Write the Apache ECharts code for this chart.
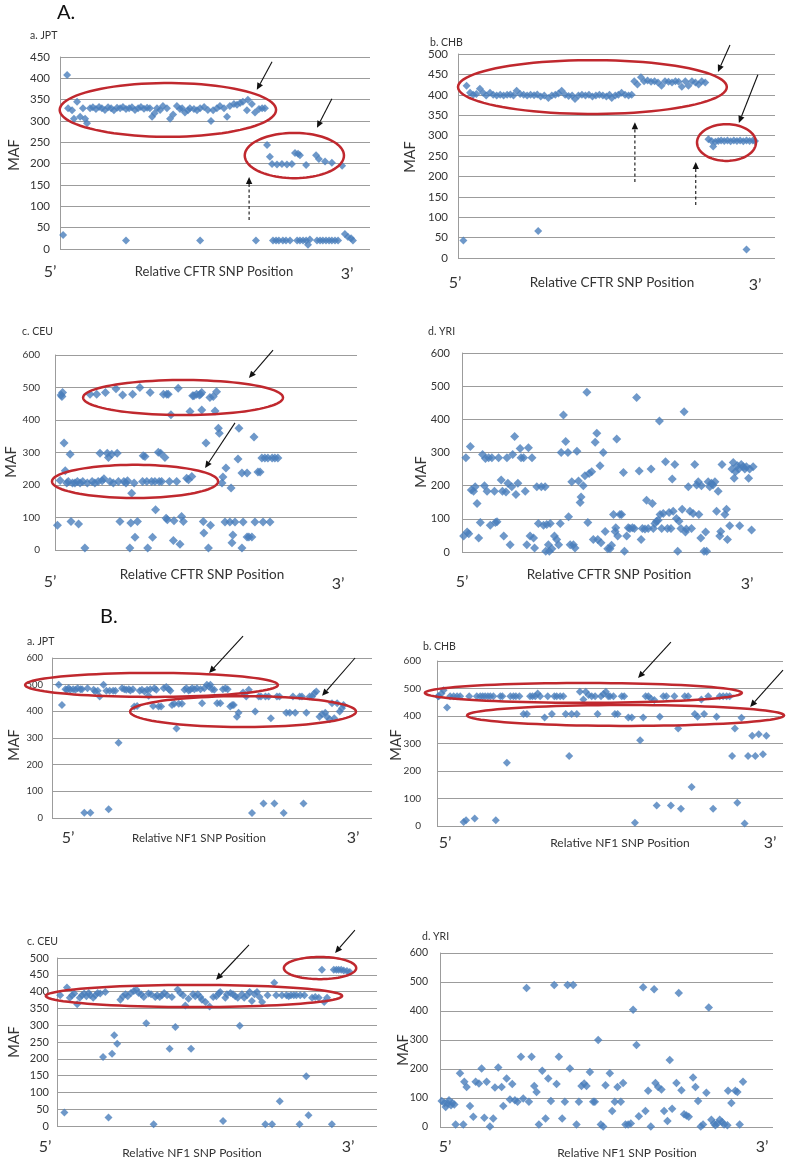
<!DOCTYPE html>
<html><head><meta charset="utf-8">
<script src="https://cdn.jsdelivr.net/npm/echarts@6/dist/echarts.min.js"></script>
<style>html,body{margin:0;padding:0;background:#fff}#c{width:795px;height:1161px}</style>
</head><body><div id="c"></div>
<script>
// ---- data: [relative SNP position (0-100), MAF] ----
const jptCFTR = [[1.0,33],[2.3,408],[2.6,330],[3.9,325],[4.5,305],[5.5,345],[6.5,310],[7.4,330],[8.1,305],[8.7,295],
[9.7,330],[10.6,332],[11.6,328],[12.6,333],[13.5,330],[14.5,326],[15.5,332],[16.5,330],[17.4,325],[18.4,331],[19.4,330],[20.3,333],[21.3,328],[22.3,330],[23.2,332],[24.2,326],[25.2,330],[26.1,333],[27.1,329],[28.1,331],[29.0,330],[29.7,310],[30.5,318],[31.3,330],[32.3,326],[33.2,335],[34.5,330],[35.5,305],[36.5,315],[37.7,335],[38.7,328],[39.4,330],[40.3,320],[41.3,325],[41.9,330],[43.2,328],[44.2,325],[45.2,330],[46.5,333],[47.7,326],[48.7,300],[49.4,325],[50.6,330],[51.6,335],[52.9,330],[53.9,310],[54.8,335],[56.1,340],[57.1,338],[58.1,342],[59.0,345],[60.3,325],[60.6,350],[61.9,340],[62.9,320],[64.2,328],[65.2,330],[66.1,330],
[66.8,244],[67.7,216],[68.4,199],[70.0,198],[71.6,199],[73.2,198],[74.8,199],[75.8,225],[76.8,223],[77.4,220],[79.4,197],[82.6,220],[83.5,211],[85.5,205],[87.7,202],[91.0,195],
[21.3,20],[45.2,20],[63.2,20],[68.7,20],[69.7,20],[70.6,20],[71.9,20],[72.9,20],[74.2,20],[76.5,20],[77.4,20],[78.4,20],[79.4,20],[80.0,10],[80.6,22],[82.9,20],[83.9,20],[84.8,20],[85.8,20],[86.8,20],[87.7,20],[88.7,20],[89.7,20],[91.9,35],[92.9,28],[93.9,25],[94.5,20]];

const chbCFTR = [[1.7,43],[2.7,422],[3.8,405],[4.8,400],[5.8,402],[6.9,415],[7.9,405],[8.9,398],[10.1,405],[11.1,400],[12.2,398],[13.3,400],[14.4,398],[15.5,400],[16.5,401],[17.5,398],[18.5,410],[19.6,402],[20.7,400],[21.8,398],[22.9,400],[24.0,399],[25.0,401],[26.1,396],[27.2,398],[28.5,392],[29.6,398],[30.7,400],[31.7,403],[32.7,410],[33.8,400],[34.9,397],[36.0,398],[36.9,390],[38.0,398],[39.1,400],[40.2,398],[41.3,400],[42.4,396],[43.5,398],[44.6,400],[45.7,398],[46.8,396],[47.8,400],[48.5,392],[49.6,398],[50.6,400],[51.6,405],[52.7,400],[53.8,398],[54.8,400],
[55.6,433],[56.6,425],[57.7,443],[58.7,433],[59.8,435],[60.9,432],[62.0,433],[63.1,430],[64.2,422],[65.3,433],[66.4,432],[67.5,430],[68.6,433],[69.6,432],[70.6,420],[71.7,433],[72.7,422],[73.8,433],[74.9,430],[75.9,425],[76.9,433],[78.0,430],
[79.0,291],[80.0,287],[80.5,273],[81.2,285],[82.1,287],[83.0,288],[84.0,287],[85.0,288],[86.0,286],[87.0,288],[88.0,287],[89.0,288],[90.0,286],[91.0,288],[92.0,287],[93.0,288],[93.7,287],
[25.3,66],[91.0,21]];

const ceuCFTR = [[0.8,76],[1.7,214],[2.0,477],[2.5,485],[2.3,472],[3.0,329],[3.4,244],[3.9,206],[4.4,211],[5.0,295],[5.3,88],[5.8,206],[6.6,206],[7.4,211],[7.8,80],[8.3,206],[9.2,211],[9.9,6],[10.7,206],[11.6,479],[12.3,211],[13.2,206],[13.8,479],[14.3,211],[14.9,298],[15.6,213],[16.2,219],[16.7,485],[17.3,298],[17.7,285],[18.2,211],[18.8,295],[19.3,206],[20.2,496],[20.6,298],[21.0,211],[21.5,88],[22.4,477],[22.8,211],[23.5,206],[24.0,213],[24.8,6],[25.1,83],[25.4,175],[25.7,479],[26.2,206],[26.5,39],[27.3,88],[28.1,500],[29.0,211],[29.2,290],[29.8,288],[30.4,211],[30.7,6],[31.5,485],[32.0,211],[32.3,39],[33.1,211],[33.3,124],[34.2,301],[34.5,211],[35.0,298],[35.3,211],[35.9,479],[36.4,285],[37.0,479],[37.5,479],[36.8,98],[37.2,93],[38.4,416],[37.9,211],[39.2,29],[39.4,90],[40.3,211],[40.8,498],[41.4,18],[41.9,103],[42.5,88],[43.6,221],[44.2,216],[44.7,426],[45.3,226],[45.6,475],[46.0,475],[46.9,479],[47.8,477],[48.2,479],[48.6,485],[48.6,431],[49.1,88],[49.3,52],[50.0,329],[50.8,6],[51.5,76],[51.3,469],[52.4,472],[53.0,428],[53.5,487],[54.1,375],[54.4,359],
[55.6,225],[55.3,206],[56.6,252],[58.3,191],[56.3,86],[58.6,22],[58.9,46],[57.9,86],[59.6,86],[60.6,280],[60.9,375],[61.9,237],[61.9,6],[62.3,86],[63.6,237],[63.6,40],[64.2,40],[65.2,40],[65.9,348],[66.2,86],[67.2,240],[67.9,240],[68.5,283],[68.9,86],[69.5,283],[70.5,283],[71.2,86],[71.9,283],[72.8,283],[73.8,283]];

const yriCFTR = [[0.5,48],[1.2,284],[1.6,60],[2.1,55],[2.6,318],[2.9,187],[3.6,183],[4.1,197],[4.7,146],[5.2,42],[5.7,89],[6.4,294],[7.0,200],[7.3,282],[7.8,183],[8.3,284],[8.8,81],[9.3,284],[10.1,183],[10.4,89],[10.9,91],[11.4,284],[12.2,217],[12.6,183],[13.0,48],[13.7,181],[14.0,284],[14.3,207],[15.0,22],[15.5,197],[15.8,294],[16.4,348],[16.8,173],[17.4,207],[18.1,312],[18.4,284],[19.2,284],[19.7,183],[20.2,22],[20.7,314],[21.2,48],[21.8,284],[22.3,42],[22.6,12],[23.3,197],[23.8,86],[24.7,197],[25.4,81],[25.9,197],[26.1,2],[26.4,83],[26.9,22],[27.2,2],[27.5,86],[28.0,10],[28.8,48],[29.5,38],[30.1,22],[30.6,86],[30.9,300],[31.6,413],[32.3,333],[33.0,300],[33.2,106],[33.7,22],[34.2,212],[34.7,22],[35.2,12],[35.8,304],[36.3,214],[36.8,149],[37.1,166],[37.8,200],[38.3,230],[38.9,482],[39.2,89],[39.6,237],[40.4,242],[40.9,38],[41.5,331],[42.0,358],[42.3,38],[43.0,260],[43.3,28],[44.0,300],[44.6,62],[45.4,10],[46.1,10],[46.6,20],[47.2,113],[47.7,62],[47.9,73],[48.2,341],[48.5,48],[49.2,113],[49.7,113],[50.3,240],[50.6,2],[51.3,48],[51.8,73],[52.3,71],[53.1,73],[53.7,71],[54.4,466],[55.2,244],[55.8,38],[56.2,71],[57.0,69],[57.5,156],[58.0,71],[58.9,250],[59.3,146],[59.6,71],[60.1,86],[60.6,93],[61.1,96],[61.5,395],[61.7,113],[62.2,71],[62.7,116],[63.4,272],[64.0,71],[64.5,119],[65.1,71],[65.5,220],[65.8,123],[66.3,264],[66.8,101],[67.2,2],[67.6,93],[68.2,71],[68.6,129],[69.2,423],[69.6,60],[69.9,69],[70.5,197],[71.0,123],[71.5,71],[72.0,116],[72.5,264],[73.1,202],[73.6,212],[73.8,113],[74.4,42],[74.6,200],[75.4,2],[75.9,60],[76.2,2],[76.7,212],[77.2,197],[77.7,207],[78.2,202],[78.8,212],[79.3,123],[79.8,183],[80.3,48],[80.6,62],[81.0,264],[81.9,113],[82.4,129],[82.7,38],[83.4,79],[84.1,250],[84.5,270],[84.8,222],[85.2,242],[85.8,260],[86.2,250],[86.5,79],[87.0,264],[87.6,257],[88.1,250],[88.6,257],[89.3,222],[89.6,250],[90.2,66],[90.7,257]];

const jptNF1 = [[2.1,500],[3.1,424],[4.2,483],[4.7,481],[5.2,487],[5.7,481],[6.6,483],[7.3,481],[8.0,487],[8.9,483],[9.4,483],[10.1,20],[11.1,487],[12.0,20],[13.0,481],[13.5,474],[14.3,477],[14.9,456],[16.1,500],[17.0,477],[17.7,33],[18.0,477],[19.1,477],[19.8,477],[20.8,282],[21.9,487],[22.6,483],[23.2,481],[24.0,483],[24.5,478],[25.3,483],[25.7,418],[26.6,420],[27.4,477],[28.1,481],[28.9,474],[29.7,481],[30.2,458],[30.7,483],[31.6,420],[32.0,487],[32.6,481],[33.3,418],[34.1,418],[34.9,487],[35.7,491],[36.5,483],[37.0,477],[37.5,424],[38.2,428],[38.9,336],[39.6,428],[40.6,428],[41.4,481],[42.0,487],[42.7,478],[43.2,481],[43.8,487],[44.5,483],[45.3,487],[46.4,483],[46.9,430],[47.6,487],[48.4,500],[49.0,493],[49.5,500],[50.0,483],[50.7,481],[51.6,430],[52.6,430],[53.4,483],[54.2,487],[54.9,483],[55.7,418],[56.3,424],[56.8,424],[57.8,380],[58.3,395],[59.7,471],[60.7,456],[61.5,481],[62.5,19],[63.5,399],[64.6,456],[65.3,456],[66.1,54],[66.7,456],[67.7,456],[68.4,374],[69.5,54],[70.3,456],[71.1,456],[72.4,19],[73.2,395],[74.3,395],[75.3,456],[76.0,395],[77.4,456],[78.1,456],[78.6,54],[79.5,395],[80.5,456],[81.3,456],[82.0,468],[82.6,474],[83.6,380],[84.4,390],[85.4,395],[85.9,380],[86.8,370],[87.5,430],[88.2,374],[89.1,430],[89.9,399],[90.6,412],[91.1,424]];

const chbNF1 = [[0.3,472],[0.5,472],[1.3,482],[1.9,494],[2.9,431],[3.8,472],[4.8,472],[5.8,472],[6.7,472],[7.7,15],[8.4,21],[9.3,472],[10.9,27],[11.5,472],[12.5,472],[13.2,472],[13.9,472],[14.7,472],[15.4,472],[16.3,472],[17.0,21],[18.3,472],[18.9,472],[20.2,230],[21.2,472],[22.1,472],[22.8,472],[23.8,472],[25.0,407],[26.0,407],[26.9,472],[27.6,472],[28.4,472],[29.1,482],[29.8,472],[31.1,395],[32.0,472],[33.2,407],[33.9,472],[34.6,472],[35.6,472],[36.5,472],[37.2,407],[38.2,255],[38.9,407],[40.4,407],[41.3,488],[42.3,460],[43.0,488],[43.8,476],[44.7,472],[45.7,472],[46.4,407],[47.4,472],[48.1,480],[48.8,488],[49.5,472],[50.0,472],[51.0,472],[51.4,407],[52.2,407],[53.4,472],[54.1,472],[55.3,395],[56.3,395],[57.2,12],[58.7,312],[59.6,395],[60.3,472],[61.1,472],[61.8,464],[62.8,458],[63.5,75],[64.4,397],[65.4,472],[66.3,472],[67.6,75],[68.6,472],[69.7,355],[70.5,63],[71.6,472],[72.6,472],[73.6,142],[74.5,407],[75.3,397],[76.4,460],[77.2,407],[78.4,472],[79.8,63],[80.8,397],[81.7,472],[82.7,472],[83.7,472],[84.6,472],[85.3,255],[86.1,355],[86.8,85],[88.0,394],[88.9,9],[89.9,255],[91.1,328],[92.0,255],[93.0,334],[94.2,261],[95.2,328]];

const ceuNF1 = [[1.0,389],[2.3,40],[3.1,412],[4.0,382],[4.7,389],[5.4,394],[6.3,362],[7.1,382],[7.8,389],[8.5,394],[9.2,386],[9.9,396],[10.4,389],[11.3,382],[12.0,389],[12.7,396],[13.5,394],[14.4,205],[15.1,399],[16.1,25],[17.2,215],[17.9,270],[18.8,245],[19.8,376],[20.6,386],[21.4,392],[22.1,386],[23.1,396],[24.0,402],[24.8,406],[25.5,396],[26.3,392],[27.1,384],[27.9,306],[28.6,394],[29.4,392],[30.2,5],[30.7,384],[31.3,389],[32.1,384],[32.8,389],[33.5,396],[34.4,389],[35.2,230],[35.9,384],[37.0,295],[37.7,406],[38.5,396],[39.4,389],[40.1,359],[41.1,379],[41.9,230],[42.5,392],[43.2,386],[44.0,392],[44.8,384],[45.3,376],[46.4,369],[47.7,356],[48.8,384],[49.8,386],[50.5,394],[51.0,399],[51.9,15],[52.6,382],[53.1,392],[54.2,396],[55.0,392],[55.7,386],[56.5,382],[57.1,298],[57.8,392],[58.5,382],[59.4,389],[60.2,399],[60.9,372],[61.7,392],[62.5,399],[63.3,384],[64.1,369],[65.1,5],[65.8,389],[67.2,5],[67.9,426],[68.5,389],[69.6,74],[70.3,389],[71.7,389],[72.4,386],[73.1,389],[74.0,389],[74.8,389],[75.8,5],[76.0,389],[77.3,389],[77.9,148],[78.6,32],[79.7,382],[80.7,384],[81.8,382],[82.8,465],[83.5,369],[84.4,382],[85.9,5],[86.5,465],[87.3,465],[88.0,465],[88.8,465],[89.6,463],[90.6,461],[91.5,458]];

const yriNF1 = [[0.5,90],[1.3,83],[1.7,69],[2.3,81],[2.7,92],[3.3,75],[3.7,83],[4.3,78],[4.7,9],[6.0,185],[7.0,9],[7.3,156],[8.0,138],[9.0,72],[10.0,35],[10.7,156],[11.7,150],[12.5,202],[13.3,32],[14.0,156],[15.0,2],[16.0,29],[16.5,136],[17.5,205],[18.5,138],[19.0,72],[20.0,167],[21.0,95],[21.7,148],[22.5,92],[23.3,87],[24.3,242],[25.0,98],[26.0,479],[26.7,87],[27.5,242],[28.3,141],[29.0,121],[29.7,9],[30.7,194],[31.7,29],[32.5,167],[33.3,90],[34.3,490],[35.0,148],[35.7,242],[36.7,29],[37.5,87],[38.3,490],[39.0,202],[40.0,490],[41.0,9],[41.7,87],[42.5,141],[43.3,150],[44.0,141],[45.0,190],[46.0,87],[46.5,87],[47.5,300],[48.3,9],[49.0,2],[49.7,144],[51.0,185],[51.7,55],[52.5,87],[53.3,138],[54.3,87],[55.0,152],[55.7,9],[56.5,9],[57.3,12],[58.0,404],[59.0,283],[59.7,37],[61.0,482],[61.7,55],[62.5,125],[63.3,2],[64.3,475],[64.7,152],[65.5,138],[66.5,129],[67.3,55],[68.3,21],[69.0,231],[69.7,63],[71.0,152],[71.7,462],[72.5,127],[73.3,44],[74.0,40],[74.7,35],[76.0,171],[76.7,138],[77.5,90],[78.3,2],[79.0,9],[80.0,118],[80.7,412],[81.5,25],[82.3,12],[82.7,6],[83.3,12],[84.0,25],[84.7,17],[85.3,9],[86.3,6],[86.5,125],[87.5,83],[88.7,125],[89.3,121],[90.0,9],[91.0,156]];

const panelTitles = ['a. JPT','b. CHB','c. CEU','d. YRI','a. JPT','b. CHB','c. CEU','d. YRI'];
const xNames = ['Relative CFTR SNP Position','Relative CFTR SNP Position','Relative CFTR SNP Position','Relative CFTR SNP Position',
                'Relative NF1 SNP Position','Relative NF1 SNP Position','Relative NF1 SNP Position','Relative NF1 SNP Position'];
const yMax = [450,500,600,600,600,600,500,600];
const yStep = [50,50,100,100,100,100,50,100];
const yName = 'MAF';
const endLabels = ['5\u2019','3\u2019'];
const sectionLabels = ['A.','B.'];
const seriesData = [jptCFTR, chbCFTR, ceuCFTR, yriCFTR, jptNF1, chbNF1, ceuNF1, yriNF1];

// annotations in data units: [panel, cx, cy, rx, ry]
const ellipses = [[0,34.8,326,34.9,63],[0,75.6,219,16,53],[1,42.4,419,42.4,66],[1,84.7,283,9.3,45],
  [2,42.4,469,33.1,54],[2,26.5,211,27.5,51],[4,31.1,499,39.5,45],[4,59.7,399,35.3,58],
  [5,42.3,484,45.8,36],[5,54.5,402,45.8,38],[6,42.8,387,46.3,33],[6,82.2,470,11.3,33]];
// [panel, x1, y1, x2, y2, dashed]
const arrows = [[0,68.4,439,63.5,373,0],[0,87.7,352,82.9,284,0],[0,61,68,61,169,1],
  [1,85.8,522,82,456,0],[1,94.6,449,88.6,331,0],[1,55.8,186,55.8,333,1],[1,75,130,75,235,1],
  [2,72.2,615,64.2,529,0],[2,59.6,391,49.7,252,0],
  [4,59.7,682,49.1,544,0],[4,94.7,600,84.4,458,0],
  [5,67.6,669,58.1,538,0],[5,100,567,90.5,433,0],
  [6,60,539,49.7,435,0],[6,93.1,583,86.9,515,0]];

// ---- layout (pixels) ----
const layout = [
 {g:[60,57,310,192], fs:11.5, m:10, sym:8, title:[30,36], maf:[14,155], name:[214,272], nfs:13, five:[50,272], three:[347,274]},
 {g:[458,54,317,204], fs:11.5, m:10, sym:8, title:[430,43], maf:[410,157], name:[612,283], nfs:13.5, five:[455,283], three:[755,285]},
 {g:[55,355,302,195], fs:10, m:15, sym:9, title:[22,332], maf:[11,462], name:[202,575], nfs:13.5, five:[50,582], three:[338,584]},
 {g:[462,353,321,199], fs:11, m:12, sym:9, title:[428,332], maf:[421,472], name:[609,575], nfs:13.5, five:[462,582], three:[747,584]},
 {g:[52,658,320,160], fs:9.5, m:9, sym:8, title:[27,642], maf:[14,745], name:[199,838], nfs:11.5, five:[68,838], three:[353,838]},
 {g:[437,661,346,165], fs:10, m:16, sym:8, title:[423,647], maf:[396,745], name:[620,843], nfs:12, five:[445,843], three:[770,843]},
 {g:[57,958,320,168], fs:11, m:8, sym:8, title:[27,942], maf:[14,1042], name:[192,1153], nfs:12, five:[45,1147], three:[348,1147]},
 {g:[440,953,333,174], fs:10.5, m:12, sym:8.5, title:[422,937], maf:[403,1050], name:[627,1153], nfs:12, five:[445,1147], three:[762,1147]}
];
const sectionPos = [[57,13],[100,617]];

const FONT = 'Lato, "Open Sans", sans-serif';
const BLUE = '#4a7ebb', RED = '#c0282e', GRIDC = '#9c9c9c', TXT = '#333';

const chart = echarts.init(document.getElementById('c'), null, {renderer:'canvas'});
const grids = [], xAxes = [], yAxes = [], series = [];
layout.forEach((L,i) => {
  grids.push({left:L.g[0], top:L.g[1], width:L.g[2], height:L.g[3], containLabel:false});
  xAxes.push({type:'value', gridIndex:i, min:0, max:100, show:false});
  yAxes.push({type:'value', gridIndex:i, min:0, max:yMax[i], interval:yStep[i],
    axisLine:{show:true, lineStyle:{color:GRIDC, width:1}}, axisTick:{show:false},
    splitLine:{show:true, lineStyle:{color:GRIDC, width:1}},
    axisLabel:{fontSize:L.fs, color:TXT, fontFamily:FONT, margin:L.m}});
  series.push({type:'scatter', xAxisIndex:i, yAxisIndex:i, data:seriesData[i], symbol:'diamond',
    symbolSize:L.sym, itemStyle:{color:BLUE}, silent:true, z:3});
});
chart.setOption({animation:false, grid:grids, xAxis:xAxes, yAxis:yAxes, series:series});

function txt(x,y,s,size,opt){
  return Object.assign({type:'text', x:x, y:y, z:10, silent:true,
    style:{text:s, x:0, y:0, fontSize:size, fontFamily:FONT, fill:TXT, align:'center', verticalAlign:'middle'}}, opt||{});
}
const els = [];
sectionLabels.forEach((s,i)=>els.push({type:'text', x:sectionPos[i][0], y:sectionPos[i][1], z:10, silent:true,
  style:{text:s,x:0,y:0,fontSize:20,fontFamily:FONT,fill:'#111',align:'left',verticalAlign:'middle'}}));
layout.forEach((L,i)=>{
  els.push({type:'text', x:L.title[0], y:L.title[1], z:10, silent:true, style:{text:panelTitles[i], x:0,y:0, fontSize:10.5, fontFamily:FONT, fill:TXT, align:'left', verticalAlign:'middle'}});
  els.push(txt(L.maf[0], L.maf[1], yName, 14.5, {rotation:Math.PI/2}));
  els.push(txt(L.name[0], L.name[1], xNames[i], L.nfs));
  els.push(txt(L.five[0], L.five[1], endLabels[0], 16));
  els.push(txt(L.three[0], L.three[1], endLabels[1], 16));
});
// ellipses
ellipses.forEach(e=>{
  const [p,cx,cy,rx,ry] = e;
  const c = chart.convertToPixel({gridIndex:p},[cx,cy]);
  const a = chart.convertToPixel({gridIndex:p},[cx+rx,cy+ry]);
  const rpx = Math.abs(a[0]-c[0]), rpy = Math.abs(a[1]-c[1]);
  const pts = [];
  for (let k=0;k<90;k++){ const t=k/90*Math.PI*2; pts.push([c[0]+rpx*Math.cos(t), c[1]+rpy*Math.sin(t)]); }
  els.push({type:'polygon', z:5, silent:true, shape:{points:pts}, style:{fill:null, stroke:RED, lineWidth:2.5}});
});
// arrows
arrows.forEach(a=>{
  const [p,x1,y1,x2,y2,d] = a;
  const s = chart.convertToPixel({gridIndex:p},[x1,y1]);
  const e = chart.convertToPixel({gridIndex:p},[x2,y2]);
  const dx=e[0]-s[0], dy=e[1]-s[1], len=Math.hypot(dx,dy), ux=dx/len, uy=dy/len;
  const hl=7, hw=3.2;
  const bx=e[0]-ux*hl, by=e[1]-uy*hl;
  els.push({type:'line', z:6, silent:true, shape:{x1:s[0],y1:s[1],x2:bx,y2:by},
    style:{stroke:'#111', lineWidth:1.1, lineDash: d ? [3,2.5] : null}});
  els.push({type:'polygon', z:6, silent:true, shape:{points:[[e[0],e[1]],[bx-uy*hw,by+ux*hw],[bx+uy*hw,by-ux*hw]]},
    style:{fill:'#111'}});
});
chart.setOption({graphic:{elements:els}});
</script></body></html>
